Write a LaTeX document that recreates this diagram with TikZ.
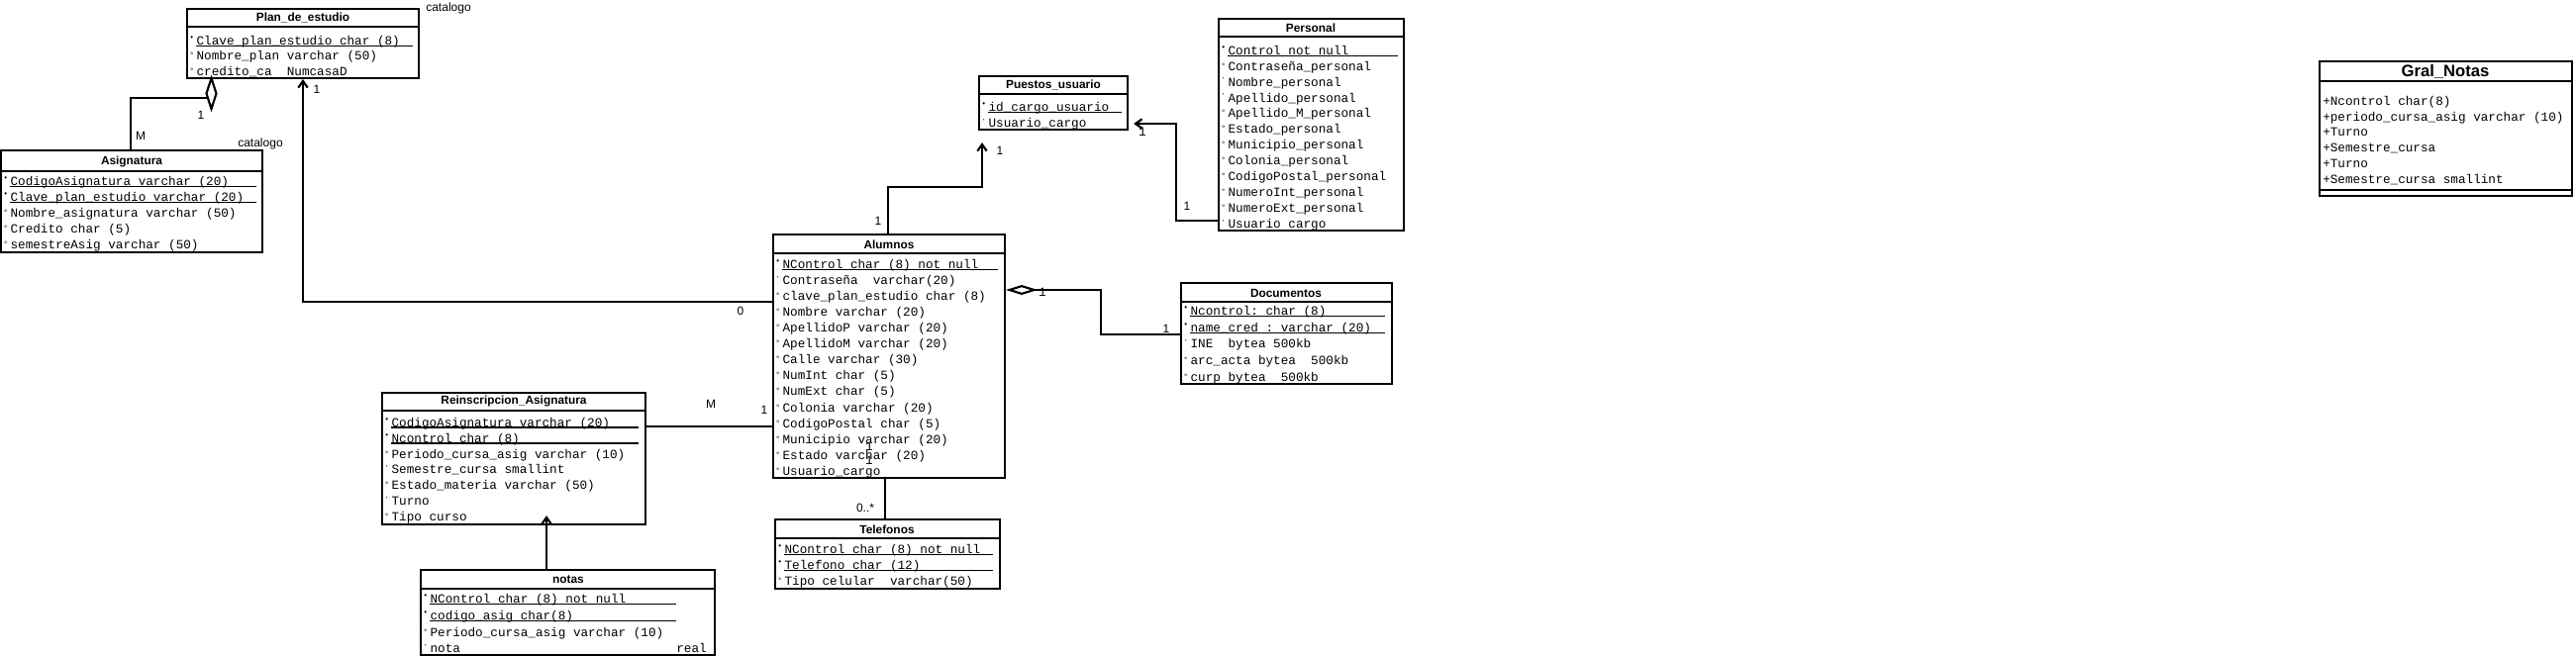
\documentclass[tikz,border=0pt]{standalone}
\usepackage{fontspec}
\setmainfont{Liberation Sans}
\setsansfont{Liberation Sans}
\setmonofont{Liberation Mono}
\usepackage{tikz}
\usetikzlibrary{fit,arrows.meta}

\newcommand{\pk}{\makebox[5.5pt][l]{\raisebox{3.6pt}{\fontsize{6}{6}\selectfont\textbullet}}}
\newcommand{\op}{\makebox[5.5pt][l]{\raisebox{1.5pt}{\fontsize{6}{6}\selectfont\textdegree}}}
\newcommand{\nn}{\makebox[5.5pt][l]{\raisebox{4pt}{\fontsize{6}{6}\selectfont\textperiodcentered}}}

\begin{document}
\begin{tikzpicture}[x=0.75pt,y=-0.75pt,
    tbl/.style={draw, line width=1.6pt, inner sep=0pt},
    hdr/.style={line width=1.6pt},
    fld/.style={anchor=west, inner sep=0pt, text height=7pt, text depth=2pt,
        font=\ttfamily\fontsize{9.5}{10}\selectfont},
    ttl/.style={inner sep=0pt, font=\sffamily\bfseries\fontsize{8.9}{10}\selectfont},
    lbl/.style={inner sep=0pt, font=\sffamily\fontsize{9}{10}\selectfont},
    lblm/.style={inner sep=0pt, font=\ttfamily\fontsize{9.5}{10}\selectfont},
    conn/.style={line width=1.6pt},
    uline/.style={line width=0.8pt},
    openarrow/.style={-{Straight Barb[length=5pt,width=7pt]}}]
    \useasboundingbox (0,0) rectangle (2602,663);

    % Plan_de_estudio
    \node[tbl, fit={(189,9) (423,79)}] (plan) {};
    \draw[hdr] (plan.west |- 0,27) -- (plan.east |- 0,27);
    \node[ttl] (planT) at (306,18) {Plan\_de\_estudio};
    \node[fld] (plan1) at (191,42) {\pk Clave\_plan\_estudio char (8)};
    \node[fld] (plan2) at (191,57.5) {\op Nombre\_plan varchar (50)};
    \node[fld] (plan3) at (191,73) {\op credito\_ca~ NumcasaD};
    \draw[uline] (198,46.5) -- (417,46.5);
    \node[lbl] (planC) at (453,8) {catalogo};

    % Asignatura
    \node[tbl, fit={(1,152) (265,255)}] (asig) {};
    \draw[hdr] (asig.west |- 0,173) -- (asig.east |- 0,173);
    \node[ttl] (asigT) at (133,163) {Asignatura};
    \node[fld] (asig1) at (3,184) {\pk CodigoAsignatura varchar (20)};
    \node[fld] (asig2) at (3,200) {\pk Clave\_plan\_estudio varchar (20)};
    \node[fld] (asig3) at (3,216) {\op Nombre\_asignatura varchar (50)};
    \node[fld] (asig4) at (3,232) {\op Credito char (5)};
    \node[fld] (asig5) at (3,248) {\op semestreAsig varchar (50)};
    \draw[uline] (10,188.5) -- (259,188.5);
    \draw[uline] (10,204.5) -- (259,204.5);
    \node[lbl] (asigC) at (263,145) {catalogo};

    % Puestos_usuario
    \node[tbl, fit={(989,77) (1139,131)}] (puestos) {};
    \draw[hdr] (puestos.west |- 0,95) -- (puestos.east |- 0,95);
    \node[ttl] (puestosT) at (1064,86) {Puestos\_usuario};
    \node[fld] (puestos1) at (991,109) {\pk id\_cargo\_usuario};
    \node[fld] (puestos2) at (991,125.5) {\nn Usuario\_cargo};
    \draw[uline] (998,113.5) -- (1133,113.5);

    % Personal
    \node[tbl, fit={(1231,19) (1418,233)}] (personal) {};
    \draw[hdr] (personal.west |- 0,37) -- (personal.east |- 0,37);
    \node[ttl] (personalT) at (1324,28) {Personal};
    \node[fld] (personal1) at (1233,52) {\pk Control not null};
    \node[fld] (personal2) at (1233,67.9) {\op Contraseña\_personal};
    \node[fld] (personal3) at (1233,83.8) {\nn Nombre\_personal};
    \node[fld] (personal4) at (1233,99.7) {\nn Apellido\_personal};
    \node[fld] (personal5) at (1233,115.6) {\op Apellido\_M\_personal};
    \node[fld] (personal6) at (1233,131.5) {\op Estado\_personal};
    \node[fld] (personal7) at (1233,147.4) {\op Municipio\_personal};
    \node[fld] (personal8) at (1233,163.3) {\op Colonia\_personal};
    \node[fld] (personal9) at (1233,179.2) {\op CodigoPostal\_personal};
    \node[fld] (personal10) at (1233,195.1) {\op NumeroInt\_personal};
    \node[fld] (personal11) at (1233,211) {\op NumeroExt\_personal};
    \node[fld] (personal12) at (1233,227) {\nn Usuario cargo};
    \draw[uline] (1240,56.5) -- (1412,56.5);

    % Alumnos
    \node[tbl, fit={(781,237) (1015,483)}] (alumnos) {};
    \draw[hdr] (alumnos.west |- 0,256) -- (alumnos.east |- 0,256);
    \node[ttl] (alumnosT) at (898,247) {Alumnos};
    \node[fld] (alumnos1) at (783,268) {\pk NControl char (8) not null};
    \node[fld] (alumnos2) at (783,284.1) {\nn Contraseña~ varchar(20)};
    \node[fld] (alumnos3) at (783,300.2) {\op clave\_plan\_estudio char (8)};
    \node[fld] (alumnos4) at (783,316.2) {\op Nombre varchar (20)};
    \node[fld] (alumnos5) at (783,332.3) {\op ApellidoP varchar (20)};
    \node[fld] (alumnos6) at (783,348.4) {\op ApellidoM varchar (20)};
    \node[fld] (alumnos7) at (783,364.5) {\op Calle varchar (30)};
    \node[fld] (alumnos8) at (783,380.6) {\op NumInt char (5)};
    \node[fld] (alumnos9) at (783,396.6) {\op NumExt char (5)};
    \node[fld] (alumnos10) at (783,412.7) {\op Colonia varchar (20)};
    \node[fld] (alumnos11) at (783,428.8) {\op CodigoPostal char (5)};
    \node[fld] (alumnos12) at (783,444.9) {\op Municipio varchar (20)};
    \node[fld] (alumnos13) at (783,461) {\op Estado varchar (20)};
    \node[fld] (alumnos14) at (783,477) {\op Usuario\_cargo};
    \draw[uline] (790,272.5) -- (1008,272.5);
    \node[lblm] (alumnosX1) at (878,451) {1};
    \node[lblm] (alumnosX2) at (878,465) {1};

    % Documentos
    \node[tbl, fit={(1193,286) (1406,388)}] (docs) {};
    \draw[hdr] (docs.west |- 0,305) -- (docs.east |- 0,305);
    \node[ttl] (docsT) at (1299,296) {Documentos};
    \node[fld] (docs1) at (1195,315) {\pk Ncontrol: char (8)};
    \node[fld] (docs2) at (1195,331.8) {\pk name\_cred : varchar (20)};
    \node[fld] (docs3) at (1195,348.5) {\nn INE~ bytea 500kb};
    \node[fld] (docs4) at (1195,365.3) {\op arc\_acta bytea~ 500kb};
    \node[fld] (docs5) at (1195,382) {\op curp bytea~ 500kb};
    \draw[uline] (1202,319.5) -- (1399,319.5);
    \draw[uline] (1202,336.3) -- (1399,336.3);

    % Reinscripcion_Asignatura
    \node[tbl, fit={(386,397) (652,530)}] (reins) {};
    \draw[hdr] (reins.west |- 0,415) -- (reins.east |- 0,415);
    \node[ttl] (reinsT) at (519,405) {Reinscripcion\_Asignatura};
    \node[fld] (reins1) at (388,428) {\pk CodigoAsignatura varchar (20)};
    \node[fld] (reins2) at (388,443.8) {\pk Ncontrol char (8)};
    \node[fld] (reins3) at (388,459.7) {\op Periodo\_cursa\_asig varchar (10)};
    \node[fld] (reins4) at (388,475.5) {\nn Semestre\_cursa smallint};
    \node[fld] (reins5) at (388,491.3) {\op Estado\_materia varchar (50)};
    \node[fld] (reins6) at (388,507.2) {\nn Turno};
    \node[fld] (reins7) at (388,523) {\op Tipo curso};
    \draw[uline] (395,432) -- (645,432);
    \draw[uline] (395,448) -- (645,448);

    % notas
    \node[tbl, fit={(425,576) (722,662)}] (notas) {};
    \draw[hdr] (notas.west |- 0,595) -- (notas.east |- 0,595);
    \node[ttl] (notasT) at (574,586) {notas};
    \node[fld] (notas1) at (427,606) {\pk NControl char (8) not null};
    \node[fld] (notas2) at (427,623) {\pk codigo\_asig char(8)};
    \node[fld] (notas3) at (427,640) {\op Periodo\_cursa\_asig varchar (10)};
    \node[fld] (notas4) at (427,656) {\nn nota};
    \node[fld, anchor=east] (notas4r) at (714,656) {real};
    \draw[uline] (434,610.5) -- (683,610.5);
    \draw[uline] (434,627.5) -- (683,627.5);

    % Telefonos
    \node[tbl, fit={(783,525) (1010,595)}] (tel) {};
    \draw[hdr] (tel.west |- 0,544) -- (tel.east |- 0,544);
    \node[ttl] (telT) at (896,535) {Telefonos};
    \node[fld] (tel1) at (785,556) {\pk NControl char (8) not null};
    \node[fld] (tel2) at (785,572) {\pk Telefono char (12)};
    \node[fld] (tel3) at (785,588) {\op Tipo celular~ varchar(50)};
    \draw[uline] (792,560.5) -- (1003,560.5);
    \draw[uline] (792,576.5) -- (1003,576.5);

    % Gral_Notas
    \node[tbl, fit={(2343,62) (2598,198)}] (gral) {};
    \draw[hdr] (gral.west |- 0,82) -- (gral.east |- 0,82);
    \draw[hdr] (gral.west |- 0,192) -- (gral.east |- 0,192);
    \node[ttl, font=\sffamily\bfseries\fontsize{12.5}{14}\selectfont] (gralT) at (2470,72) {Gral\_Notas};
    \node[fld] (gral1) at (2346,103) {+Ncontrol char(8)};
    \node[fld] (gral2) at (2346,118.8) {+periodo\_cursa\_asig varchar (10)};
    \node[fld] (gral3) at (2346,134.6) {+Turno};
    \node[fld] (gral4) at (2346,150.4) {+Semestre\_cursa};
    \node[fld] (gral5) at (2346,166.2) {+Turno};
    \node[fld] (gral6) at (2346,182) {+Semestre\_cursa smallint};

    % connectors
    \coordinate (dPlan) at (213.5,79);
    \coordinate (dPlanIn) at (212,99);
    \draw[conn] (asig.north -| 132,0) |- (dPlanIn);
    \draw[conn, fill=white] (dPlan) -- ++(5,15.5) -- ++(-5,15.5) -- ++(-5,-15.5) -- cycle;
    \node[lbl] (m1) at (203,116) {1};
    \node[lbl] (m2) at (142,137) {M};

    \draw[conn, openarrow] (alumnos.west |- 0,305) -| (plan.south -| 306,0);
    \node[lbl] (m3) at (320,90) {1};
    \node[lbl] (m4) at (748,314) {0};

    \draw[conn, openarrow, shorten >=9pt] (alumnos.north -| 897,0) |- (992,189) -- (puestos.south -| 992,0);
    \node[lbl] (m5) at (887,223) {1};
    \node[lbl] (m6) at (1010,152) {1};

    \draw[conn, openarrow, shorten >=3.75pt] (personal.west |- 0,223) -| (1188,125) -- (puestos.east |- 0,125);
    \node[lblm] (m7) at (1154,133) {1};
    \node[lbl] (m8) at (1199,208) {1};

    \draw[conn, {Diamond[open,length=24pt,width=7.5pt]}-] (alumnos.east |- 0,293) -- (1112,293) |- (docs.west |- 0,338);
    \node[lblm] (m9) at (1053,295) {1};
    \node[lbl] (m10) at (1178,332) {1};

    \draw[conn] (reins.east |- 0,431) -- (alumnos.west |- 0,431);
    \node[lbl] (m11) at (718,408) {M};
    \node[lbl] (m12) at (772,414) {1};

    \draw[conn, openarrow, shorten >=-7.5pt] (notas.north -| 552,0) -- (reins.south -| 552,0);

    \draw[conn] (alumnos.south -| 894,0) -- (tel.north -| 894,0);
    \node[lbl] (m13) at (874,513) {0..*};
\end{tikzpicture}
\end{document}
